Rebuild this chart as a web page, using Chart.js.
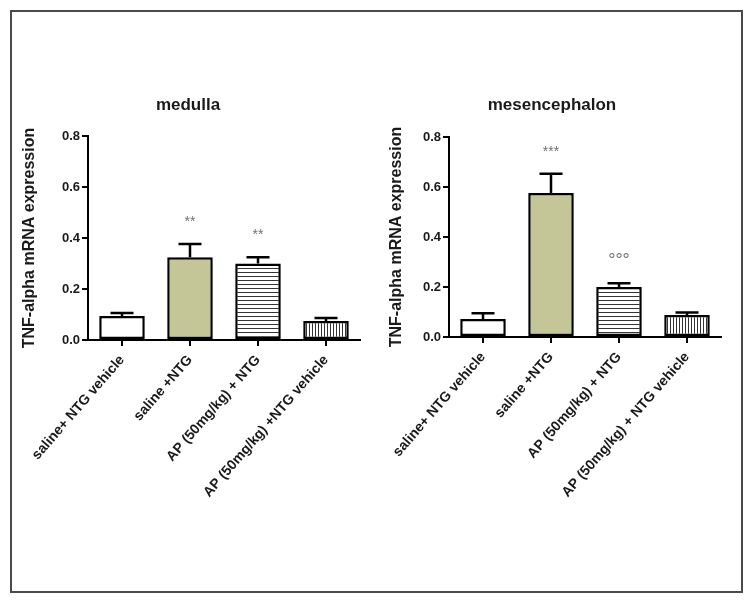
<!DOCTYPE html>
<html><head><meta charset="utf-8">
<script src="https://cdn.jsdelivr.net/npm/chart.js@4.4.1/dist/chart.umd.min.js"></script>
<style>
html,body{margin:0;padding:0;background:#fff;}
#frame{position:absolute;left:10px;top:10px;width:733px;height:583px;border:2px solid #4a4a4a;box-sizing:border-box;}
.wrap{position:absolute;top:0;height:603px;}
#w1{left:0;width:376px;} #w2{left:376px;width:377px;}
</style></head><body>
<div id="frame"></div>
<div class="wrap" id="w1"><canvas id="c1" width="376" height="603"></canvas></div>
<div class="wrap" id="w2"><canvas id="c2" width="377" height="603"></canvas></div>
<script>
// ---- data ----
const medullaLabels = ['saline+ NTG vehicle', 'saline +NTG', 'AP (50mg/kg) + NTG', 'AP (50mg/kg) +NTG vehicle'];
const medullaMean = [0.094, 0.325, 0.300, 0.075];
const medullaSEM  = [0.012, 0.051, 0.025, 0.011];
const medullaSig  = ['', '**', '**', ''];

const mesLabels = ['saline+ NTG vehicle', 'saline +NTG', 'AP (50mg/kg) + NTG', 'AP (50mg/kg) + NTG vehicle'];
const mesMean = [0.072, 0.576, 0.200, 0.088];
const mesSEM  = [0.023, 0.077, 0.015, 0.010];
const mesSig  = ['', '***', '°°°', ''];

const yTicks = [0, 0.2, 0.4, 0.6, 0.8];
const yTitle = 'TNF-alpha mRNA expression';

// ---- styling ----
const FONT = 'Arial, "Liberation Sans", sans-serif';
const TXT = '#1a1a1a';
const OLIVE = '#c5c698';

function hPattern(){
  const c = document.createElement('canvas'); c.width = 4; c.height = 4;
  const x = c.getContext('2d');
  x.fillStyle = '#fff'; x.fillRect(0,0,4,4);
  x.fillStyle = '#333'; x.fillRect(0,0,4,1);
  return x.createPattern(c, 'repeat');
}
function vPattern(){
  const c = document.createElement('canvas'); c.width = 3; c.height = 3;
  const x = c.getContext('2d');
  x.fillStyle = '#fff'; x.fillRect(0,0,3,3);
  x.fillStyle = '#333'; x.fillRect(0,0,1,3);
  return x.createPattern(c, 'repeat');
}

function makeChart(id, labels, mean, sem, sig, title, g){
  const errPlugin = {
    id: 'errbars',
    afterDatasetsDraw(chart){
      const ctx = chart.ctx, y = chart.scales.y, meta = chart.getDatasetMeta(0);
      ctx.save();
      ctx.strokeStyle = '#000'; ctx.lineWidth = 2.5;
      meta.data.forEach((bar, i) => {
        const top = y.getPixelForValue(mean[i]);
        const et = y.getPixelForValue(mean[i] + sem[i]);
        ctx.beginPath();
        ctx.moveTo(bar.x, top); ctx.lineTo(bar.x, et);
        ctx.moveTo(bar.x - 11.5, et); ctx.lineTo(bar.x + 11.5, et);
        ctx.stroke();
        if (sig[i]) {
          const deg = sig[i].indexOf('°') >= 0;
          ctx.fillStyle = '#707070';
          ctx.font = (deg ? '18px ' : '14px ') + FONT;
          ctx.textAlign = 'center'; ctx.textBaseline = 'middle';
          ctx.fillText(sig[i], bar.x, et - 22);
        }
      });
      ctx.restore();
    }
  };
  return new Chart(document.getElementById(id), {
    type: 'bar',
    data: {
      labels: labels,
      datasets: [{
        data: mean,
        backgroundColor: ['#ffffff', OLIVE, hPattern(), vPattern()],
        borderColor: '#000',
        borderWidth: 2.5,
        borderSkipped: false,
        barPercentage: 0.67,
        categoryPercentage: 1.0
      }]
    },
    options: {
      responsive: false,
      animation: false,
      layout: { padding: { left: g.padLeft, right: g.padRight, top: 0, bottom: 0 } },
      plugins: {
        legend: { display: false },
        tooltip: { enabled: false },
        title: {
          display: true, text: title, color: TXT,
          font: { family: FONT, size: 17, weight: 'bold' },
          padding: { top: g.tTop, bottom: g.tBot }
        }
      },
      scales: {
        x: {
          offset: true,
          grid: { display: true, drawOnChartArea: false, drawTicks: true, tickLength: 6, color: '#000', lineWidth: 2, offset: false },
          border: { display: true, color: '#000', width: 2 },
          ticks: { autoSkip: false, maxRotation: 49, minRotation: 49, color: TXT, padding: 6,
                   font: { family: FONT, size: 14, weight: 'bold' } },
          afterFit(s){ s.height = g.xHeight; }
        },
        y: {
          min: yTicks[0], max: yTicks[yTicks.length - 1],
          afterBuildTicks(s){ s.ticks = yTicks.map(v => ({ value: v })); },
          ticks: { color: TXT, padding: 2, callback: v => Number(v).toFixed(1),
                   font: { family: FONT, size: 13, weight: 'bold' } },
          grid: { display: true, drawOnChartArea: false, drawTicks: true, tickLength: 6, color: '#000', lineWidth: 2 },
          border: { display: true, color: '#000', width: 2 },
          title: { display: true, text: yTitle, color: TXT, padding: { top: 4, bottom: 4 },
                   font: { family: FONT, size: 16, weight: 'bold' } },
          afterFit(s){ s.width = g.yWidth; }
        }
      }
    },
    plugins: [errPlugin]
  });
}

makeChart('c1', medullaLabels, medullaMean, medullaSEM, medullaSig, 'medulla',
  { padLeft: 16, yWidth: 72, padRight: 16, xHeight: 263, tTop: 94.8, tBot: 20.8 });
makeChart('c2', mesLabels, mesMean, mesSEM, mesSig, 'mesencephalon',
  { padLeft: 7, yWidth: 66, padRight: 32, xHeight: 266, tTop: 94.8, tBot: 21.8 });
</script>
</body></html>
